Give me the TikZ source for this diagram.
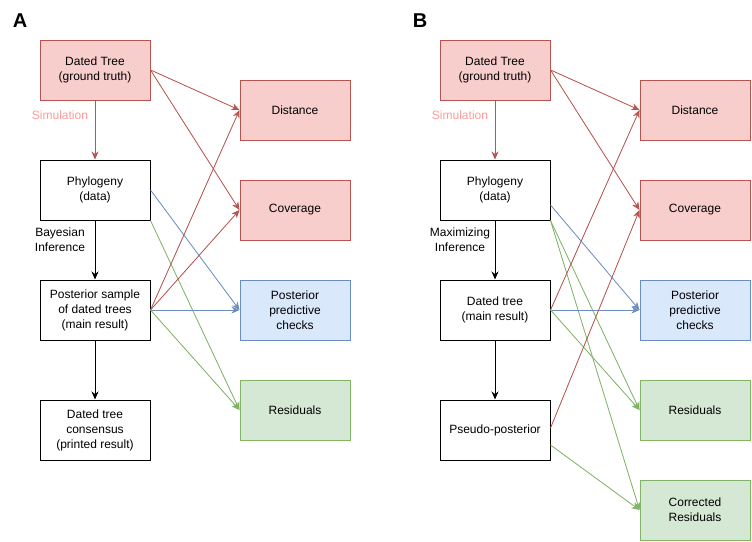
\documentclass[tikz,border=0pt]{standalone}
\usepackage{fontspec}
\setmainfont{Liberation Sans}
\usetikzlibrary{arrows.meta,calc}
\definecolor{redfill}{HTML}{F8CECC}
\definecolor{redline}{HTML}{B85450}
\definecolor{bluefill}{HTML}{DAE8FC}
\definecolor{blueline}{HTML}{6C8EBF}
\definecolor{greenfill}{HTML}{D5E8D4}
\definecolor{greenline}{HTML}{82B366}
\definecolor{simtext}{HTML}{FF9999}
\tikzset{
  box/.style={draw=black, fill=white, line width=1pt, minimum width=110pt, minimum height=60pt,
    inner sep=2pt, align=center, font=\fontsize{12pt}{15pt}\selectfont},
  redbox/.style={box, draw=redline, fill=redfill},
  bluebox/.style={box, draw=blueline, fill=bluefill},
  greenbox/.style={box, draw=greenline, fill=greenfill},
  conn/.style={line width=0.8pt, -{Stealth[length=8pt,width=7pt,inset=2.5pt]}},
  redc/.style={conn, draw=redline, fill=redline},
  bluec/.style={conn, draw=blueline, fill=blueline},
  greenc/.style={conn, draw=greenline, fill=greenline},
  blackc/.style={conn, draw=black, fill=black, line width=1pt},
  lbl/.style={align=center, font=\fontsize{12pt}{15pt}\selectfont, inner sep=0pt},
  panel/.style={font=\fontsize{20pt}{20pt}\selectfont\bfseries, inner sep=0pt}
}
\begin{document}
\begin{tikzpicture}[x=1pt,y=-1pt]
\useasboundingbox (0,0) rectangle (752,541);
% ---------- Panel A ----------
\node[panel] (labA) at (20,21) {A};
\node[redbox] (dtA) at (95,70) {Dated Tree\\(ground truth)};
\node[box] (phyA) at (95,190) {Phylogeny\\(data)};
\node[box] (postA) at (95,310) {Posterior sample\\of dated trees\\(main result)};
\node[box] (consA) at (95,430) {Dated tree\\consensus\\(printed result)};
\node[redbox] (distA) at (295,110) {Distance};
\node[redbox] (covA) at (295,210) {Coverage};
\node[bluebox] (ppcA) at (295,310) {Posterior\\predictive\\checks};
\node[greenbox] (resA) at (295,410) {Residuals};
\node[lbl, text=simtext] (simA) at (60,115) {Simulation};
\node[lbl] (bayA) at (60,240) {Bayesian\\Inference};

\draw[redc] (dtA.east) -- (distA.west);
\draw[redc] (dtA.east) -- (covA.west);
\draw[redc] (dtA.south) -- (phyA.north);
\draw[bluec] (phyA.east) -- (ppcA.west);
\draw[greenc] (phyA.south east) -- (resA.west);
\draw[redc] (postA.east) -- (distA.west);
\draw[redc] (postA.east) -- (covA.west);
\draw[bluec] (postA.east) -- (ppcA.west);
\draw[greenc] (postA.east) -- (resA.west);
\draw[blackc] (phyA.south) -- (postA.north);
\draw[blackc] (postA.south) -- (consA.north);

% ---------- Panel B ----------
\node[panel] (labB) at (420,21) {B};
\node[redbox] (dtB) at (495,70) {Dated Tree\\(ground truth)};
\node[box] (phyB) at (495,190) {Phylogeny\\(data)};
\node[box] (dmB) at (495,310) {Dated tree\\(main result)};
\node[box] (psB) at (495,430) {Pseudo-posterior};
\node[redbox] (distB) at (695,110) {Distance};
\node[redbox] (covB) at (695,210) {Coverage};
\node[bluebox] (ppcB) at (695,310) {Posterior\\predictive\\checks};
\node[greenbox] (resB) at (695,410) {Residuals};
\node[greenbox] (corB) at (695,510) {Corrected\\Residuals};
\node[lbl, text=simtext] (simB) at (460,115) {Simulation};
\node[lbl] (maxB) at (460,240) {Maximizing\\Inference};
\coordinate (phyBblue) at ($(phyB.east)+(0,15)$);
\coordinate (psBred) at ($(psB.east)+(0,-2)$);
\coordinate (psBgreen) at ($(psB.east)+(0,15)$);

\draw[redc] (dtB.east) -- (distB.west);
\draw[redc] (dtB.east) -- (covB.west);
\draw[redc] (dtB.south) -- (phyB.north);
\draw[bluec] (phyBblue) -- (ppcB.west);
\draw[greenc] (phyB.south east) -- (resB.west);
\draw[greenc] (phyB.south east) -- (corB.west);
\draw[redc] (dmB.east) -- (distB.west);
\draw[bluec] (dmB.east) -- (ppcB.west);
\draw[greenc] (dmB.east) -- (resB.west);
\draw[redc] (psBred) -- (covB.west);
\draw[greenc] (psBgreen) -- (corB.west);
\draw[blackc] (phyB.south) -- (dmB.north);
\draw[blackc] (dmB.south) -- (psB.north);
\end{tikzpicture}
\end{document}
